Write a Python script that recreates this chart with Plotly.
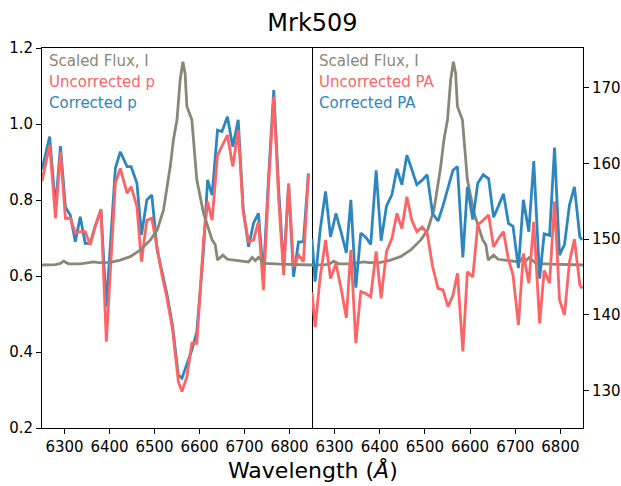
import plotly.graph_objects as go

# ---------------- data ----------------
# Left panel: polarisation p (%) vs wavelength
wl_p = [6250, 6267, 6280, 6291, 6302, 6313, 6324, 6335, 6346, 6357, 6368, 6381, 6393,
        6403, 6413, 6424, 6439, 6448, 6461, 6471, 6483, 6494, 6506, 6517, 6528, 6540,
        6553, 6561, 6572, 6583, 6594, 6609, 6618, 6628, 6640, 6650, 6662, 6674, 6686,
        6697, 6709, 6720, 6731, 6742, 6753, 6765, 6776, 6787, 6798, 6809, 6820, 6831, 6842]
p_corrected = [0.88, 0.967, 0.78, 0.942, 0.782, 0.76, 0.69, 0.756, 0.686, 0.686, 0.73, 0.774, 0.519,
               0.70, 0.883, 0.927, 0.888, 0.888, 0.844, 0.708, 0.80, 0.813, 0.668, 0.61, 0.55, 0.47,
               0.339, 0.331, 0.370, 0.405, 0.453, 0.668, 0.853, 0.813, 0.984, 0.980, 1.019, 0.940, 1.011,
               0.778, 0.677, 0.739, 0.765, 0.60, 0.85, 1.089, 0.826, 0.62, 0.84, 0.598, 0.69, 0.69, 0.87]
p_uncorrected = [0.85, 0.945, 0.752, 0.927, 0.752, 0.752, 0.713, 0.717, 0.717, 0.682, 0.73, 0.776, 0.427,
                 0.64, 0.844, 0.883, 0.818, 0.835, 0.782, 0.638, 0.747, 0.752, 0.668, 0.60, 0.54, 0.46,
                 0.322, 0.296, 0.335, 0.423, 0.423, 0.695, 0.796, 0.747, 0.918, 0.942, 0.971, 0.888, 0.984,
                 0.769, 0.69, 0.695, 0.743, 0.563, 0.83, 1.072, 0.80, 0.603, 0.844, 0.624, 0.655, 0.638, 0.867]

# Right panel: polarisation angle PA (deg) vs wavelength
wl_pa = [6250, 6257, 6268, 6280, 6291, 6303, 6315, 6326, 6336, 6347, 6358, 6370, 6380, 6392,
         6403, 6415, 6427, 6438, 6449, 6460, 6471, 6482, 6494, 6505, 6517, 6529, 6540, 6551,
         6562, 6572, 6584, 6594, 6606, 6617, 6629, 6641, 6652, 6663, 6674, 6685, 6695, 6707,
         6718, 6730, 6741, 6754, 6764, 6776, 6787, 6798, 6809, 6820, 6831, 6843, 6848]
pa_corrected = [150.0, 144.4, 151.2, 156.3, 150.3, 153.4, 150.8, 148.2, 155.2, 143.6, 150.8, 150.2,
                149.3, 159.1, 149.8, 154.4, 155.9, 159.3, 157.2, 161.1, 159.2, 157.2, 157.8, 158.5,
                153.4, 152.4, 154.4, 156.7, 159.1, 159.6, 147.6, 156.9, 152.6, 157.4, 158.5, 158.0,
                152.9, 154.4, 156.0, 152.1, 151.7, 146.2, 155.2, 151.0, 160.3, 144.8, 150.7, 150.5,
                162.1, 147.9, 149.3, 154.5, 156.9, 150.3, 149.9]
pa_uncorrected = [143.0, 138.4, 145.0, 149.9, 144.8, 146.8, 143.3, 139.6, 148.6, 136.3, 143.1, 142.8,
                  142.4, 148.4, 142.2, 148.4, 150.1, 153.4, 151.4, 155.6, 152.5, 151.0, 151.6, 150.8,
                  146.4, 143.5, 143.3, 141.1, 142.6, 145.5, 135.2, 145.7, 145.0, 151.9, 152.5, 153.2,
                  149.0, 150.1, 151.0, 147.3, 145.3, 138.7, 148.1, 144.2, 152.3, 138.9, 145.9, 144.2,
                  155.0, 142.0, 140.0, 147.0, 150.0, 144.0, 143.5]

# Scaled total flux I (same curve in both panels)
wl_flux = [6250, 6280, 6291, 6298, 6309, 6335, 6365, 6376, 6402, 6424, 6446, 6468, 6491, 6506,
           6520, 6535, 6542, 6550, 6557, 6563, 6568, 6572, 6583, 6594, 6609, 6628, 6635, 6640,
           6652, 6662, 6709, 6717, 6724, 6731, 6746, 6780, 6850]
flux = [0.629, 0.630, 0.633, 0.639, 0.632, 0.632, 0.637, 0.635, 0.636, 0.642, 0.651, 0.668, 0.695, 0.721,
        0.774, 0.888, 0.958, 1.011, 1.116, 1.164, 1.133, 1.046, 1.011, 0.853, 0.765, 0.695, 0.682, 0.642,
        0.655, 0.644, 0.637, 0.649, 0.640, 0.649, 0.633, 0.631, 0.629]

x_ticks = [6300, 6400, 6500, 6600, 6700, 6800]
p_ticks = [0.2, 0.4, 0.6, 0.8, 1.0, 1.2]
pa_ticks = [130, 140, 150, 160, 170]

labels_left = ["Scaled Flux, I", "Uncorrected p", "Corrected p"]
labels_right = ["Scaled Flux, I", "Uncorrected PA", "Corrected PA"]

# ---------------- style ----------------
C_FLUX = "#8a8777"
C_RED = "#ff6464"
C_BLUE = "#2e86c1"
FONT = "DejaVu Sans"
LW = 2.8

fig = go.Figure()
# left panel
fig.add_trace(go.Scatter(x=wl_p, y=p_corrected, mode="lines", line=dict(color=C_BLUE, width=LW),
                         xaxis="x", yaxis="y", showlegend=False))
fig.add_trace(go.Scatter(x=wl_p, y=p_uncorrected, mode="lines", line=dict(color=C_RED, width=LW),
                         xaxis="x", yaxis="y", showlegend=False))
fig.add_trace(go.Scatter(x=wl_flux, y=flux, mode="lines", line=dict(color=C_FLUX, width=LW),
                         xaxis="x", yaxis="y", showlegend=False))
# right panel
fig.add_trace(go.Scatter(x=wl_pa, y=pa_corrected, mode="lines", line=dict(color=C_BLUE, width=LW),
                         xaxis="x2", yaxis="y3", showlegend=False))
fig.add_trace(go.Scatter(x=wl_pa, y=pa_uncorrected, mode="lines", line=dict(color=C_RED, width=LW),
                         xaxis="x2", yaxis="y3", showlegend=False))
fig.add_trace(go.Scatter(x=wl_flux, y=flux, mode="lines", line=dict(color=C_FLUX, width=LW),
                         xaxis="x2", yaxis="y2", showlegend=False))

split = 270 / 541
tickfont = dict(family=FONT, size=15, color="black")
common_x = dict(range=[6250, 6850], tickvals=x_ticks, ticks="outside", ticklen=5, tickwidth=1,
                tickcolor="black", showline=True, linecolor="black", linewidth=1, mirror=True,
                showgrid=False, zeroline=False, tickfont=tickfont, automargin=False)

fig.update_layout(
    width=621, height=486,
    margin=dict(l=42, r=38, t=48, b=58, autoexpand=False),
    paper_bgcolor="white", plot_bgcolor="white",
    font=dict(family=FONT, color="black"),
    xaxis=dict(domain=[0, split], anchor="y", **common_x),
    xaxis2=dict(domain=[split, 1], anchor="y2", **common_x),
    yaxis=dict(domain=[0, 1], anchor="x", range=[0.2, 1.2], tickvals=p_ticks,
               ticktext=[f"{v:.1f}" for v in p_ticks], ticks="outside", ticklen=5, tickwidth=1,
               tickcolor="black", showline=True, linecolor="black", linewidth=1, mirror=True,
               showgrid=False, zeroline=False, tickfont=tickfont, automargin=False),
    yaxis2=dict(domain=[0, 1], anchor="x2", range=[0.2, 1.2], visible=False, automargin=False),
    yaxis3=dict(overlaying="y2", anchor="x2", side="right", range=[125.08, 175.24], tickvals=pa_ticks,
                ticks="outside", ticklen=5, tickwidth=1, tickcolor="black", showline=True,
                linecolor="black", linewidth=1, showgrid=False, zeroline=False, tickfont=tickfont,
                automargin=False),
    title=dict(text="Mrk509", x=0.5, xref="paper", xanchor="center", y=1 - 23 / 486, yref="container",
               yanchor="middle", automargin=False, font=dict(family=FONT, size=24, color="black")),
)

annotations = [dict(text="Wavelength (<i>Å</i>)", xref="paper", yref="paper", x=0.5, y=(428 - 470) / 380,
                    xanchor="center", yanchor="middle", showarrow=False,
                    font=dict(family=FONT, size=22, color="black"))]
colors = [C_FLUX, C_RED, C_BLUE]
ys = [1 - 13 / 380, 1 - 34 / 380, 1 - 55 / 380]
for xref, labels in (("x domain", labels_left), ("x2 domain", labels_right)):
    for lab, col, yy in zip(labels, colors, ys):
        annotations.append(dict(text=lab, xref=xref, yref="y domain", x=0.018, y=yy, xanchor="left",
                                yanchor="middle", showarrow=False,
                                font=dict(family=FONT, size=15, color=col)))
fig.update_layout(annotations=annotations)

fig.write_html("out.html", config={"displayModeBar": False},
               post_script="document.body.style.margin='0';document.body.style.overflow='hidden';")
